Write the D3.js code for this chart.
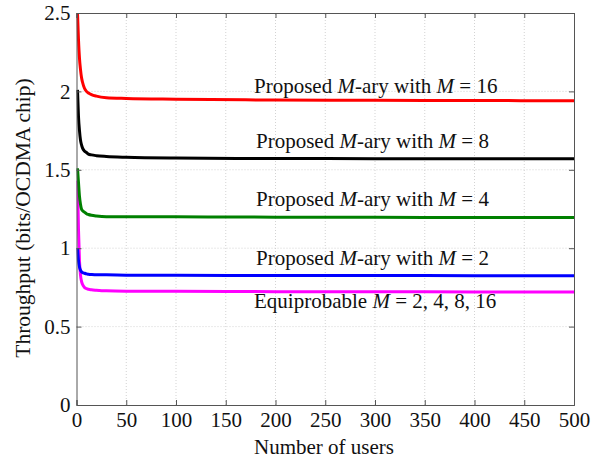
<!DOCTYPE html>
<html>
<head>
<meta charset="utf-8">
<script src="https://cdn.jsdelivr.net/npm/d3@7"></script>
<style>
  html, body { margin: 0; padding: 0; background: #fff; }
  svg text { font-family: "Liberation Serif", "Times New Roman", serif; fill: #111; }
</style>
</head>
<body>
<svg id="chart" width="602" height="460"></svg>
<script>
// Throughput per OCDMA chip versus the number of users
const users = [1, 2, 3, 4, 5, 6, 8, 10, 12, 15, 20, 30, 50, 100, 200, 300, 400, 500];

const m16 = [2.50, 2.33, 2.21, 2.14, 2.09, 2.06, 2.02, 2.00, 1.99, 1.98, 1.97, 1.96, 1.955, 1.95, 1.945, 1.943, 1.942, 1.94];
const m8  = [2.01, 1.84, 1.75, 1.69, 1.66, 1.64, 1.62, 1.61, 1.60, 1.595, 1.59, 1.585, 1.58, 1.575, 1.572, 1.571, 1.57, 1.57];
const m4  = [1.51, 1.42, 1.33, 1.28, 1.25, 1.24, 1.23, 1.22, 1.215, 1.21, 1.205, 1.20, 1.20, 1.20, 1.198, 1.197, 1.196, 1.195];
const m2  = [1.00, 0.92, 0.88, 0.86, 0.85, 0.845, 0.84, 0.836, 0.834, 0.832, 0.83, 0.83, 0.828, 0.827, 0.826, 0.826, 0.825, 0.825];
const equi = [1.43, 1.12, 0.92, 0.83, 0.79, 0.77, 0.75, 0.742, 0.738, 0.735, 0.732, 0.728, 0.726, 0.725, 0.723, 0.722, 0.721, 0.72];

const seriesNames = ["Proposed M-ary with M = 16", "Proposed M-ary with M = 8", "Proposed M-ary with M = 4",
                     "Proposed M-ary with M = 2", "Equiprobable M = 2, 4, 8, 16"];
const seriesColors = ["#ff0000", "#000000", "#008000", "#0000ff", "#ff00ff"];

const xTicks = [0, 50, 100, 150, 200, 250, 300, 350, 400, 450, 500];
const yTicks = [0, 0.5, 1, 1.5, 2, 2.5];

const margin = { left: 76.5, right: 28, top: 13, bottom: 55 };
const W = 602, H = 460;
const FS = 21;
const svg = d3.select("#chart");

const x = d3.scaleLinear().domain([0, 500]).range([margin.left, W - margin.right]);
const y = d3.scaleLinear().domain([0, 2.5]).range([H - margin.bottom, margin.top]);

const x0 = x.range()[0], x1 = x.range()[1], y0 = y.range()[0], y1 = y.range()[1];

// dotted grid
const grid = svg.append("g").attr("stroke", "#c8c8c8").attr("stroke-width", 0.8).attr("stroke-dasharray", "1,2");
grid.selectAll("line.gx").data(xTicks.slice(1, -1)).join("line")
  .attr("x1", d => x(d)).attr("x2", d => x(d)).attr("y1", y0).attr("y2", y1);
grid.selectAll("line.gy").data(yTicks.slice(1, -1)).join("line")
  .attr("y1", d => y(d)).attr("y2", d => y(d)).attr("x1", x0).attr("x2", x1);

// curves
const data = [m16, m8, m4, m2, equi];
const line = d3.line().x((d, i) => x(users[i])).y(d => y(d)).curve(d3.curveMonotoneX);
svg.append("clipPath").attr("id", "plotclip").append("rect")
  .attr("x", x0).attr("y", y1 - 2).attr("width", x1 - x0).attr("height", y0 - y1 + 2);
svg.append("g").attr("clip-path", "url(#plotclip)")
  .selectAll("path").data([4, 3, 2, 1, 0]).join("path")
  .attr("d", i => line(data[i]))
  .attr("fill", "none")
  .attr("stroke", i => seriesColors[i])
  .attr("stroke-width", 3)
  .attr("stroke-linejoin", "round");

// axes: ticks inside, full box
const tickSize = 5;
const axisColor = "#555";
const xAxisB = d3.axisBottom(x).tickValues(xTicks).tickSize(-tickSize).tickPadding(7).tickFormat(d3.format("d"));
const xAxisT = d3.axisTop(x).tickValues(xTicks).tickSize(-tickSize).tickFormat("");
const yAxisL = d3.axisLeft(y).tickValues(yTicks).tickSize(-tickSize).tickPadding(6).tickFormat(d => d3.format("")(d));
const yAxisR = d3.axisRight(y).tickValues(yTicks).tickSize(-tickSize).tickFormat("");

function style(g) {
  g.select(".domain").attr("stroke", axisColor).attr("stroke-width", 1);
  g.selectAll(".tick line").attr("stroke", axisColor);
  g.selectAll(".tick text").attr("font-family", "Liberation Serif").attr("font-size", FS).attr("fill", "#111");
}
svg.append("g").attr("transform", `translate(0,${y0})`).call(xAxisB).call(style);
svg.append("g").attr("transform", `translate(0,${y1})`).call(xAxisT).call(style);
svg.append("g").attr("transform", `translate(${x0},0)`).call(yAxisL).call(style);
svg.append("g").attr("transform", `translate(${x1},0)`).call(yAxisR).call(style);

// axis titles
svg.append("text").attr("x", 324).attr("y", 454).attr("text-anchor", "middle")
  .attr("font-size", FS).text("Number of users");
svg.append("text").attr("transform", `translate(30,218) rotate(-90)`)
  .attr("text-anchor", "middle").attr("font-size", 21.5).text("Throughput (bits/OCDMA chip)");

// curve annotations
const labelX = 254;
const labelY = [93, 148, 206, 265, 308];
const labels = svg.append("g").attr("font-size", FS);
function addRich(t, parts) {
  parts.forEach(p => t.append("tspan").attr("font-style", p[1] ? "italic" : "normal").text(p[0]));
}
const labelParts = [
  [["Proposed ", 0], ["M", 1], ["-ary with ", 0], ["M", 1], [" = 16", 0]],
  [["Proposed ", 0], ["M", 1], ["-ary with ", 0], ["M", 1], [" = 8", 0]],
  [["Proposed ", 0], ["M", 1], ["-ary with ", 0], ["M", 1], [" = 4", 0]],
  [["Proposed ", 0], ["M", 1], ["-ary with ", 0], ["M", 1], [" = 2", 0]],
  [["Equiprobable ", 0], ["M", 1], [" = 2, 4, 8, 16", 0]]
];
const labelDx = [0, 2, 2, 2, 0];
labelParts.forEach((parts, i) => {
  const t = labels.append("text").attr("x", labelX + labelDx[i]).attr("y", labelY[i]);
  addRich(t, parts);
});
</script>
</body>
</html>
